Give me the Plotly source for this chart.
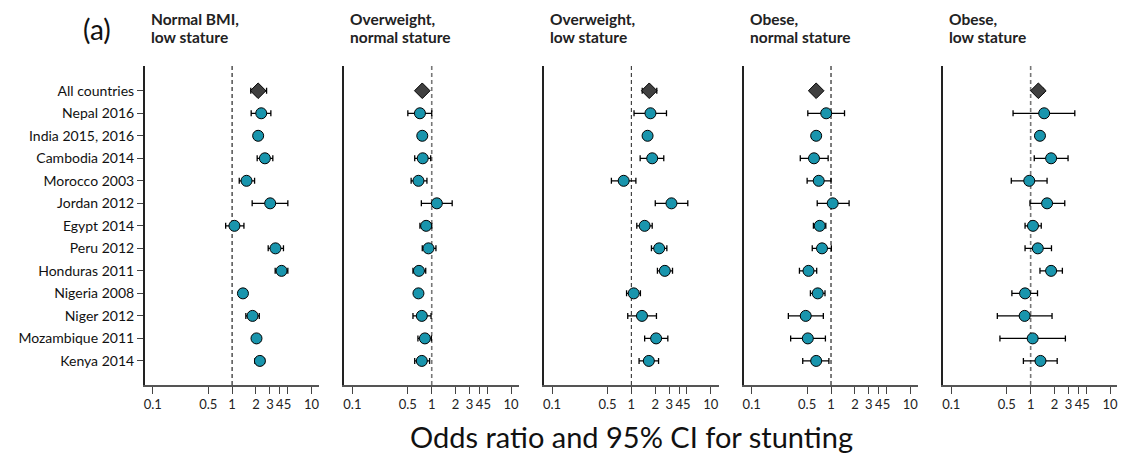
import plotly.graph_objects as go

countries = ["All countries", "Nepal 2016", "India 2015, 2016", "Cambodia 2014", "Morocco 2003",
             "Jordan 2012", "Egypt 2014", "Peru 2012", "Honduras 2011", "Nigeria 2008",
             "Niger 2012", "Mozambique 2011", "Kenya 2014"]

panel_titles_l1 = ["Normal BMI,", "Overweight,", "Overweight,", "Obese,", "Obese,"]
panel_titles_l2 = ["low stature", "normal stature", "low stature", "normal stature", "low stature"]

p1_or = [2.13, 2.33, 2.13, 2.59, 1.52, 3.02, 1.07, 3.52, 4.20, 1.37, 1.81, 2.03, 2.24]
p1_lo = [1.72, 1.74, 2.00, 2.07, 1.23, 1.79, 0.83, 2.85, 3.49, 1.28, 1.49, 1.83, 1.94]
p1_hi = [2.72, 3.08, 2.25, 3.26, 1.92, 5.04, 1.41, 4.44, 5.04, 1.46, 2.20, 2.28, 2.56]

p2_or = [0.76, 0.71, 0.76, 0.77, 0.68, 1.16, 0.85, 0.91, 0.69, 0.68, 0.75, 0.82, 0.75]
p2_lo = [0.70, 0.50, 0.71, 0.61, 0.55, 0.74, 0.71, 0.76, 0.58, 0.63, 0.58, 0.67, 0.61]
p2_hi = [0.82, 1.00, 0.81, 0.97, 0.87, 1.81, 1.00, 1.13, 0.84, 0.73, 0.98, 0.99, 0.94]

p3_or = [1.68, 1.74, 1.60, 1.83, 0.80, 3.20, 1.47, 2.24, 2.64, 1.07, 1.36, 2.05, 1.66]
p3_lo = [1.37, 1.08, 1.50, 1.29, 0.56, 2.00, 1.17, 1.79, 2.13, 0.87, 0.90, 1.47, 1.25]
p3_hi = [2.09, 2.77, 1.70, 2.56, 1.14, 5.14, 1.83, 2.80, 3.30, 1.30, 2.07, 2.88, 2.20]

p4_or = [0.65, 0.87, 0.65, 0.61, 0.70, 1.05, 0.72, 0.77, 0.52, 0.68, 0.48, 0.51, 0.65]
p4_lo = [0.60, 0.51, 0.60, 0.41, 0.50, 0.67, 0.60, 0.58, 0.40, 0.55, 0.29, 0.31, 0.44]
p4_hi = [0.70, 1.48, 0.70, 0.92, 1.00, 1.69, 0.86, 1.01, 0.66, 0.84, 0.80, 0.85, 0.94]

p5_or = [1.25, 1.48, 1.31, 1.81, 0.96, 1.61, 1.07, 1.23, 1.81, 0.85, 0.84, 1.06, 1.33]
p5_lo = [1.12, 0.60, 1.22, 1.11, 0.57, 0.98, 0.85, 0.85, 1.31, 0.58, 0.38, 0.41, 0.81]
p5_hi = [1.45, 3.60, 1.40, 2.96, 1.61, 2.69, 1.36, 1.83, 2.51, 1.22, 1.86, 2.74, 2.16]

tick_vals = [0.1, 0.5, 1, 2, 3, 4, 5, 10]
tick_text = ["0.1", "0.5", "1", "2", "3", "4", "5", "10"]

panels = [(p1_or, p1_lo, p1_hi), (p2_or, p2_lo, p2_hi), (p3_or, p3_lo, p3_hi),
          (p4_or, p4_lo, p4_hi), (p5_or, p5_lo, p5_hi)]

# page has an 8px body margin; figure is sized so the page is 1126x463
OFF = 8
FW, FH = 1126 - 2 * OFF, 463 - 2 * OFF


def fx(px):
    return (px - OFF) / FW


def fy(py):
    return 1 - (py - OFF) / FH


FONT = "Lato"
TEAL = "#1995AD"
DIAMOND = "#404040"
ref_colors = ["#111111", "#777777", "#333333", "#111111", "#777777"]
ref_widths = [1.1, 1.6, 1.1, 1.1, 1.6]
DECADE = 79.5

y_idx = list(range(len(countries)))
y_range = [13.07, -1.1]

fig = go.Figure()
layout = dict(width=FW, height=FH, margin=dict(l=0, r=0, t=0, b=0),
              paper_bgcolor="white", plot_bgcolor="white", showlegend=False,
              font=dict(family=FONT, color="#222222"))
annotations = []

for k, (orv, lo, hi) in enumerate(panels):
    sfx = "" if k == 0 else str(k + 1)
    xa, ya = "x" + sfx, "y" + sfx
    one_px = 231.5 + 200 * k
    left_px = 144 + 200 * k
    right_px = min(319 + 200 * k, OFF + FW)
    xrange = [(left_px - one_px) / DECADE, (right_px - one_px) / DECADE]
    # reference line at OR = 1
    fig.add_trace(go.Scatter(x=[1, 1], y=y_range, mode="lines", xaxis=xa, yaxis=ya,
                             line=dict(color=ref_colors[k], width=ref_widths[k], dash="4px,3px"),
                             hoverinfo="skip", cliponaxis=False))
    plus = [h - o for h, o in zip(hi, orv)]
    minus = [o - l for o, l in zip(orv, lo)]
    # error bars (invisible markers)
    fig.add_trace(go.Scatter(
        x=orv, y=y_idx, mode="markers", xaxis=xa, yaxis=ya,
        marker=dict(size=1, opacity=0),
        error_x=dict(type="data", symmetric=False, array=plus, arrayminus=minus,
                     color="black", thickness=1.3, width=3),
        cliponaxis=False, hoverinfo="skip"))
    symbols = ["diamond"] + ["circle"] * (len(orv) - 1)
    colors = [DIAMOND] + [TEAL] * (len(orv) - 1)
    sizes = [12] + [11] * (len(orv) - 1)
    fig.add_trace(go.Scatter(
        x=orv, y=y_idx, mode="markers", xaxis=xa, yaxis=ya,
        marker=dict(symbol=symbols, color=colors, size=sizes, opacity=1,
                    line=dict(color="black", width=1)),
        cliponaxis=False))
    layout["xaxis" + sfx] = dict(
        domain=[fx(left_px), fx(right_px)], type="log", range=xrange, anchor=ya,
        tickvals=tick_vals, ticktext=tick_text, ticks="outside", ticklen=7, tickangle=0,
        ticklabeloverflow="allow",
        tickwidth=1.2, tickcolor="#444444", showline=True, linecolor="#555555", linewidth=1.6,
        showgrid=False, zeroline=False, tickfont=dict(size=13, family=FONT, color="#222222"))
    layout["yaxis" + sfx] = dict(
        domain=[fy(385), fy(66)], range=y_range, anchor=xa,
        tickvals=y_idx, ticktext=countries if k == 0 else None,
        showticklabels=(k == 0), ticks="outside" if k == 0 else "", ticklen=6,
        tickwidth=1.2, tickcolor="#444444",
        showline=True, linecolor="#222222", linewidth=1.6, showgrid=False, zeroline=False,
        tickfont=dict(size=14, family=FONT, color="#111111"))
    for line_text, ypx in ((panel_titles_l1[k], 18.5), (panel_titles_l2[k], 37)):
        annotations.append(dict(text="<b>" + line_text + "</b>", xref="paper", yref="paper",
                                x=fx(149 + 200 * k), y=fy(ypx), xanchor="left", yanchor="middle",
                                align="left", showarrow=False, borderpad=0,
                                font=dict(size=15.5, family=FONT, color="#222222")))

annotations.append(dict(text="(a)", xref="paper", yref="paper", x=fx(96), y=fy(29),
                        xanchor="center", yanchor="middle", showarrow=False,
                        font=dict(size=28, family=FONT, color="#111111")))
annotations.append(dict(text="Odds ratio and 95% CI for stunting", xref="paper", yref="paper",
                        x=fx(631.5), y=fy(436), xanchor="center", yanchor="middle",
                        showarrow=False, font=dict(size=29, family=FONT, color="#111111")))
layout["annotations"] = annotations
fig.update_layout(**layout)
fig.write_html("out.html")
